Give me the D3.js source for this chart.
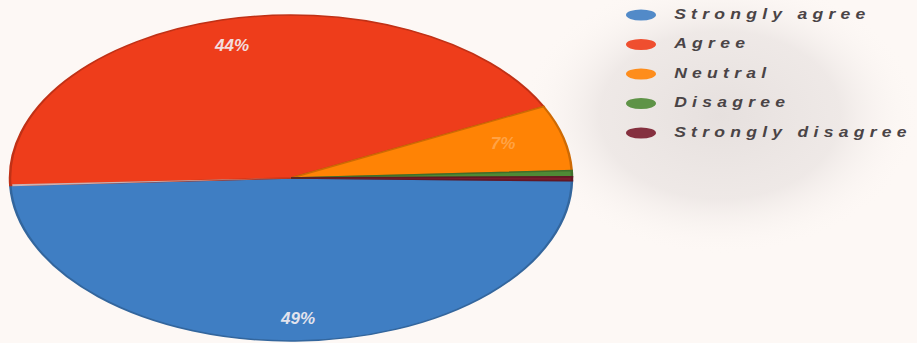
<!DOCTYPE html>
<html><head><meta charset="utf-8">
<script src="https://cdn.jsdelivr.net/npm/d3@7"></script>
<style>html,body{margin:0;padding:0;background:#fdf8f5;}svg{display:block;}</style>
</head><body>
<svg id="chart" width="917" height="343"></svg>
<script>
const categories = ["Strongly agree", "Agree", "Neutral", "Disagree", "Strongly disagree"];
const values = [49, 43.5, 6.5, 0.6, 0.4];
const colors = ["#3f7ec3", "#ee3d1b", "#ff8305", "#4f8a35", "#7a1c2c"];
const shownLabels = ["49%", "44%", "7%", "", ""];

const svg = d3.select("#chart");

// background shadow behind legend
const defs = svg.append("defs");
const rg = defs.append("radialGradient").attr("id", "shade").attr("cx", "50%").attr("cy", "50%").attr("r", "50%");
rg.append("stop").attr("offset", "0%").attr("stop-color", "#e6e0de").attr("stop-opacity", 1);
rg.append("stop").attr("offset", "60%").attr("stop-color", "#ebe5e3").attr("stop-opacity", 0.8);
rg.append("stop").attr("offset", "100%").attr("stop-color", "#fdf8f5").attr("stop-opacity", 0);
svg.append("ellipse").attr("cx", 720).attr("cy", 115).attr("rx", 200).attr("ry", 140).attr("fill", "url(#shade)");

const cx = 291, cy = 178, rx = 281, ry = 163;
const start = 91 * Math.PI / 180;
const pie = d3.pie().value(d => d).sort(null)
  .startAngle(start).endAngle(start + 2 * Math.PI);
const arcs = pie(values);
const arc = d3.arc().innerRadius(0).outerRadius(rx);

const g = svg.append("g").attr("transform", `translate(${cx},${cy}) scale(1,${ry / rx})`);
g.selectAll("path.slice").data(arcs).join("path")
  .attr("class", "slice")
  .attr("d", arc)
  .attr("fill", (d, i) => colors[i])
  .attr("stroke", (d, i) => d3.color(colors[i]).darker(0.6))
  .attr("stroke-width", 2.5);
// light separator between blue and red on the left
g.append("path")
  .attr("d", d3.arc().innerRadius(0).outerRadius(rx - 2)({startAngle: arcs[0].endAngle - 0.006, endAngle: arcs[0].endAngle + 0.006}))
  .attr("fill", "#c9d3dc").attr("opacity", 0.8);

// labels
const labelPos = [[298, 320], [232, 47], [503, 145]];
svg.selectAll("text.pl").data(arcs.slice(0, 3)).join("text")
  .attr("class", "pl")
  .attr("x", (d, i) => labelPos[i][0])
  .attr("y", (d, i) => labelPos[i][1])
  .attr("text-anchor", "middle")
  .attr("dominant-baseline", "middle")
  .attr("font-family", "Liberation Sans, Arial, sans-serif")
  .attr("font-style", "italic").attr("font-weight", "bold")
  .attr("font-size", 17)
  .attr("fill", (d, i) => i === 2 ? "#ffb060" : "#f4eef2")
  .attr("opacity", (d, i) => i === 2 ? 0.7 : 0.9)
  .text((d, i) => shownLabels[i]);

// legend
const leg = svg.append("g").attr("transform", "translate(625,15)");
const items = leg.selectAll("g").data(categories).join("g")
  .attr("transform", (d, i) => `translate(0,${i * 29.5})`);
items.append("ellipse").attr("cx", 16).attr("cy", 0).attr("rx", 15).attr("ry", 5.5)
  .attr("fill", (d, i) => colors[i]).attr("opacity", 0.9);
items.append("text")
  .attr("x", 42).attr("y", 0).attr("dominant-baseline", "middle")
  .attr("font-family", "Liberation Sans, Arial, sans-serif")
  .attr("font-style", "italic").attr("font-weight", "bold")
  .attr("font-size", 15).attr("letter-spacing", 4.5)
  .attr("fill", "#4a4446")
  .attr("transform", "scale(1.17,1)")
  .text(d => d);
</script>
</body></html>
